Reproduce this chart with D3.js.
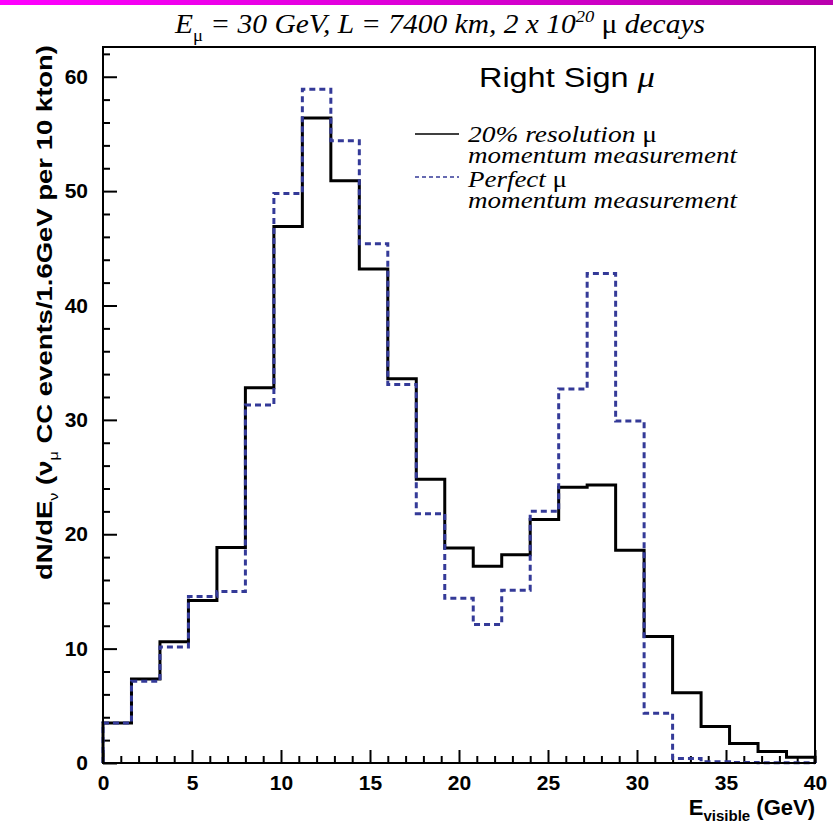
<!DOCTYPE html>
<html>
<head>
<meta charset="utf-8">
<script src="https://cdn.jsdelivr.net/npm/d3@7"></script>
<style>
  body { margin: 0; background: #fff; }
  svg { display: block; }
</style>
</head>
<body>
<script>
// bin low edges (GeV), bins are 1.6 GeV wide
var binLow = [0, 1.6, 3.2, 4.8, 6.4, 8.0, 9.6, 11.2, 12.8, 14.4, 16.0, 17.6, 19.2,
              20.8, 22.4, 24.0, 25.6, 27.2, 28.8, 30.4, 32.0, 33.6, 35.2, 36.8, 38.4];
var binEnd = 40;

// 20% resolution mu momentum measurement (solid)
var resol20 = [3.5, 7.35, 10.6, 14.2, 18.85, 32.8, 46.9, 56.4, 50.9, 43.2, 33.6, 24.8, 18.8,
               17.2, 18.2, 21.3, 24.1, 24.3, 18.6, 11.05, 6.15, 3.2, 1.7, 1.0, 0.5];
// perfect mu momentum measurement (dashed)
var perfect = [3.5, 7.15, 10.15, 14.55, 15.0, 31.3, 49.8, 58.9, 54.4, 45.4, 33.1, 21.8, 14.4,
               12.1, 15.1, 22.0, 32.7, 42.8, 29.9, 4.35, 0.4, 0.1, 0.05, 0.03, 0.02];

var xMajor = [0, 5, 10, 15, 20, 25, 30, 35, 40];
var xMinor = [1, 2, 3, 4, 6, 7, 8, 9, 11, 12, 13, 14, 16, 17, 18, 19, 21, 22, 23, 24,
              26, 27, 28, 29, 31, 32, 33, 34, 36, 37, 38, 39];
var yMajor = [0, 10, 20, 30, 40, 50, 60];
var yMinor = [2, 4, 6, 8, 12, 14, 16, 18, 22, 24, 26, 28, 32, 34, 36, 38, 42, 44, 46, 48,
              52, 54, 56, 58, 62];

var W = 833, H = 826;
var frame = {left: 103, right: 815, top: 47, bottom: 763};

var svg = d3.select("body").append("svg")
            .attr("width", W)
            .attr("height", H)
            .attr("viewBox", [0, 0, W, H]);

// magenta strip on top
var grad = svg.append("defs").append("linearGradient")
              .attr("id", "bar")
              .attr("x1", "0%").attr("x2", "100%");
grad.append("stop").attr("offset", "0%").attr("stop-color", "#ff00ff");
grad.append("stop").attr("offset", "100%").attr("stop-color", "#b900ad");
svg.append("rect")
   .attr("x", 0).attr("y", 0)
   .attr("width", W).attr("height", 5)
   .attr("fill", "url(#bar)");

var x = d3.scaleLinear().domain([0, 40]).range([frame.left, frame.right]);
var y = d3.scaleLinear().domain([0, 62.6]).range([frame.bottom, frame.top]);

// axes, ticks pointing inward
function axisStyle(g) {
  g.select(".domain").remove();
  g.selectAll(".tick line").attr("stroke", "#000").attr("stroke-width", 2);
  g.selectAll(".tick text")
   .attr("font-family", "'Liberation Sans', Arial, sans-serif")
   .attr("font-weight", "bold")
   .attr("font-size", 21)
   .attr("fill", "#000");
}

svg.append("g")
   .attr("transform", "translate(0," + frame.bottom + ")")
   .call(d3.axisBottom(x).tickValues(xMajor).tickSizeInner(-13).tickSizeOuter(0).tickPadding(12))
   .call(axisStyle);
svg.append("g")
   .attr("transform", "translate(0," + frame.bottom + ")")
   .call(d3.axisBottom(x).tickValues(xMinor).tickSizeInner(-7).tickSizeOuter(0).tickFormat(""))
   .call(axisStyle);
svg.append("g")
   .attr("transform", "translate(" + frame.left + ",0)")
   .call(d3.axisLeft(y).tickValues(yMajor).tickSizeInner(-14).tickSizeOuter(0).tickPadding(15))
   .call(axisStyle);
svg.append("g")
   .attr("transform", "translate(" + frame.left + ",0)")
   .call(d3.axisLeft(y).tickValues(yMinor).tickSizeInner(-7).tickSizeOuter(0).tickFormat(""))
   .call(axisStyle);

// histogram outlines
function steps(vals) {
  var pts = [[binLow[0], 0]];
  vals.forEach(function(v, i) { pts.push([binLow[i], v]); });
  pts.push([binEnd, vals[vals.length - 1]]);
  pts.push([binEnd, 0]);
  return pts;
}
var line = d3.line()
             .x(function(d) { return x(d[0]); })
             .y(function(d) { return y(d[1]); })
             .curve(d3.curveStepAfter);

svg.append("path")
   .attr("d", line(steps(resol20)))
   .attr("fill", "none")
   .attr("stroke", "#000")
   .attr("stroke-width", 3);
svg.append("path")
   .attr("d", line(steps(perfect)))
   .attr("fill", "none")
   .attr("stroke", "#343a98")
   .attr("stroke-width", 3)
   .attr("stroke-dasharray", "6,4");

// frame
svg.append("rect")
   .attr("x", frame.left).attr("y", frame.top)
   .attr("width", frame.right - frame.left)
   .attr("height", frame.bottom - frame.top)
   .attr("fill", "none")
   .attr("stroke", "#000")
   .attr("stroke-width", 2);

// title
var serif = "'Liberation Serif', 'Times New Roman', serif";
var title = svg.append("text")
   .attr("x", 175).attr("y", 33)
   .attr("textLength", 530)
   .attr("lengthAdjust", "spacingAndGlyphs")
   .attr("font-family", serif)
   .attr("font-style", "italic")
   .attr("font-size", 27);
title.append("tspan").text("E");
title.append("tspan").attr("font-style", "normal").attr("font-size", 17).attr("dy", 8).text("μ");
title.append("tspan").attr("dy", -8).text(" = 30 GeV, L = 7400 km, 2 x 10");
title.append("tspan").attr("font-size", 17).attr("dy", -11).text("20");
title.append("tspan").attr("dy", 11).attr("font-style", "normal").text(" μ");
title.append("tspan").text(" decays");

// Right Sign mu
var rs = svg.append("text")
   .attr("x", 479).attr("y", 87)
   .attr("textLength", 176)
   .attr("lengthAdjust", "spacingAndGlyphs")
   .attr("font-family", "'Liberation Sans', Arial, sans-serif")
   .attr("font-size", 27);
rs.append("tspan").text("Right Sign ");
rs.append("tspan").attr("font-style", "italic").attr("font-family", serif).attr("font-size", 29).text("μ");

// legend
var legend = [
  {dash: null, color: "#000", ly: 134, y0: 142,
   lines: [["20% resolution ", "μ", 189], ["momentum measurement", "", 269]]},
  {dash: "4,3", color: "#343a98", ly: 177, y0: 187,
   lines: [["Perfect ", "μ", 99], ["momentum measurement", "", 269]]}
];
legend.forEach(function(l) {
  svg.append("line")
     .attr("x1", 415).attr("x2", 459)
     .attr("y1", l.ly).attr("y2", l.ly)
     .attr("stroke", l.color)
     .attr("stroke-width", 1.5)
     .attr("stroke-dasharray", l.dash);
  l.lines.forEach(function(t, i) {
    var tx = svg.append("text")
       .attr("x", 468).attr("y", l.y0 + i * 21)
       .attr("textLength", t[2])
       .attr("lengthAdjust", "spacingAndGlyphs")
       .attr("font-family", serif)
       .attr("font-style", "italic")
       .attr("font-size", 24);
    tx.append("tspan").text(t[0]);
    if (t[1]) tx.append("tspan").attr("font-style", "normal").text(t[1]);
  });
});

// y axis title
var yt = svg.append("text")
   .attr("transform", "translate(52,580) rotate(-90)")
   .attr("textLength", 535)
   .attr("lengthAdjust", "spacingAndGlyphs")
   .attr("font-family", "'Liberation Sans', Arial, sans-serif")
   .attr("font-weight", "bold")
   .attr("font-size", 22);
yt.append("tspan").text("dN/dE");
yt.append("tspan").attr("font-size", 13).attr("font-weight", "normal").attr("dy", 6).text("ν");
yt.append("tspan").attr("dy", -6).text(" (ν");
yt.append("tspan").attr("font-size", 13).attr("font-weight", "normal").attr("dy", 6).text("μ");
yt.append("tspan").attr("dy", -6).text(" CC events/1.6GeV per 10 kton)");

// x axis title
var xt = svg.append("text")
   .attr("x", 815).attr("y", 815)
   .attr("text-anchor", "end")
   .attr("font-family", "'Liberation Sans', Arial, sans-serif")
   .attr("font-weight", "bold")
   .attr("font-size", 22);
xt.append("tspan").text("E");
xt.append("tspan").attr("font-size", 15).attr("dy", 6).text("visible");
xt.append("tspan").attr("dy", -6).text(" (GeV)");
</script>
</body>
</html>
